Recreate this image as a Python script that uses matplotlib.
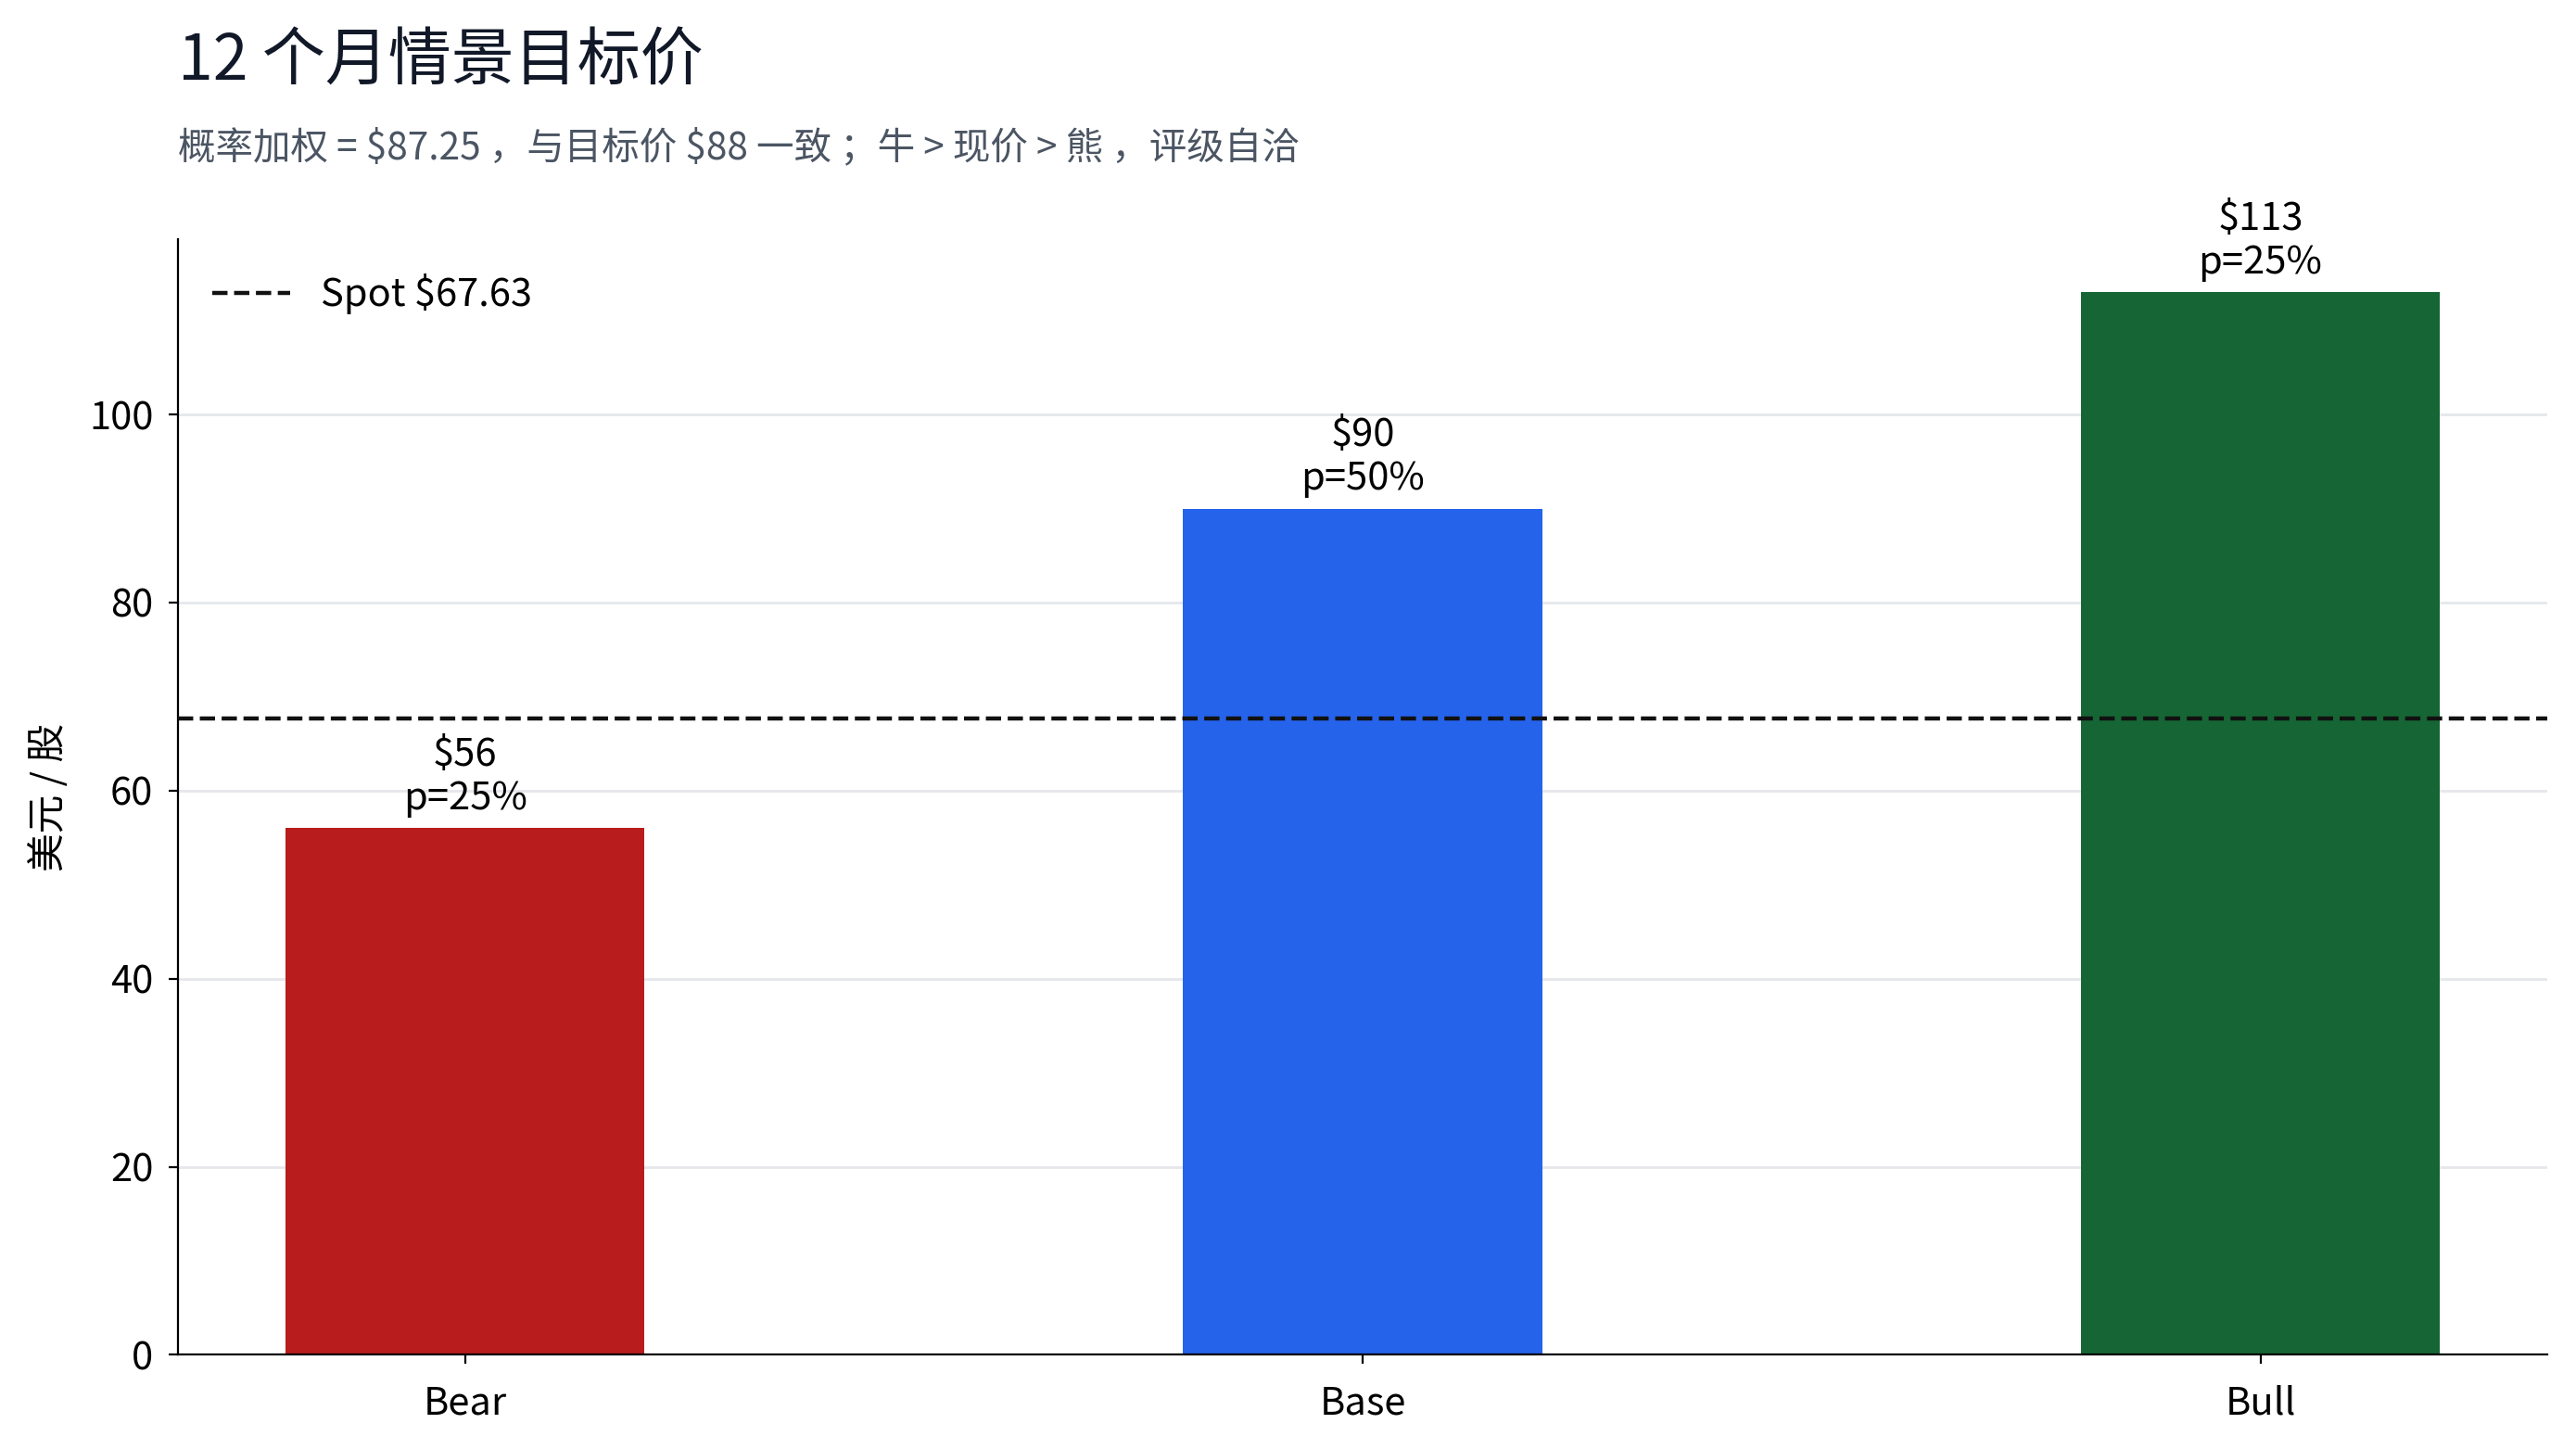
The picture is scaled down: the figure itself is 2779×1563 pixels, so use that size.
import matplotlib
matplotlib.use('Agg')
import matplotlib.pyplot as plt

plt.rcParams['font.family'] = ['Noto Sans CJK SC', 'DejaVu Sans']

scenarios = ['Bear', 'Base', 'Bull']
targets = [56, 90, 113]
probs = [25, 50, 25]
colors = ['#B91C1C', '#2563EB', '#166534']
spot = 67.63

fig = plt.figure(figsize=(13.895, 7.815), dpi=200)
ax = fig.add_axes([0.069, 0.065, 0.92, 0.77])

x = range(len(scenarios))
bars = ax.bar(x, targets, width=0.4, color=colors, zorder=2)
ax.axhline(spot, color='#111111', ls='--', lw=1.6, label=f'Spot ${spot:.2f}', zorder=3)

for b, t, p in zip(bars, targets, probs):
    ax.annotate(f'${t}\np={p}%', (b.get_x() + b.get_width() / 2, t),
                xytext=(0, 4), textcoords='offset points',
                ha='center', va='bottom', fontsize=15)

ax.set_xticks(list(x), scenarios)
ax.set_ylim(0, max(targets) * 1.05)
ax.set_ylabel('美元 / 股', fontsize=15, labelpad=8)
ax.tick_params(labelsize=15)
ax.tick_params(axis='x', pad=8)
ax.tick_params(axis='y', pad=6)
ax.grid(axis='y', color='#e5e7eb', lw=1, zorder=0)
ax.spines['top'].set_visible(False)
ax.spines['right'].set_visible(False)
ax.legend(loc='upper left', frameon=False, fontsize=15)

fig.text(0.069, 0.957, '12 个月情景目标价', fontsize=24.5, color='#111827', ha='left', va='center')
fig.text(0.069, 0.898, r'概率加权 = \$87.25 ，与目标价 \$88 一致 ；牛 > 现价 > 熊 ，评级自洽',
         fontsize=14.6, color='#4B5563', ha='left', va='center')

fig.savefig('out.png', dpi=200)
